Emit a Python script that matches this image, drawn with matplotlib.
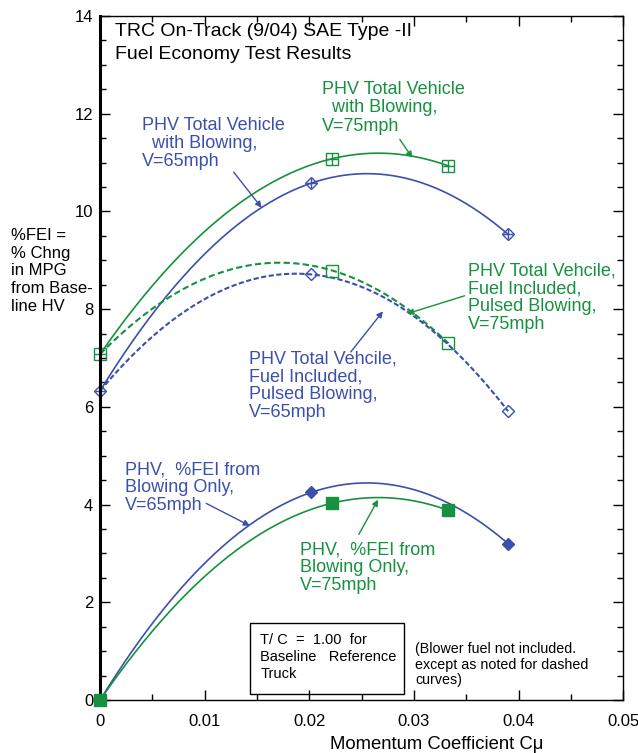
import matplotlib
matplotlib.use("Agg")
import matplotlib.pyplot as plt
import numpy as np
from matplotlib.ticker import MultipleLocator
from matplotlib.patches import Rectangle

plt.rcParams['font.family'] = ['Liberation Sans', 'DejaVu Sans']

BLUE = '#3b50ad'
GREEN = '#16913f'

# values (Momentum coefficient Cmu, %FEI)
cmu_65 = [0.0, 0.0202, 0.039]
cmu_75 = [0.0, 0.0222, 0.0333]
total_65 = [6.33, 10.58, 9.53]
total_75 = [7.08, 11.08, 10.93]
pulsed_65 = [6.33, 8.71, 5.91]
pulsed_75 = [7.08, 8.79, 7.30]
blowing_65 = [0.0, 4.25, 3.20]
blowing_75 = [0.0, 4.03, 3.88]

fig = plt.figure(figsize=(6.38, 7.53), dpi=100)
ax = fig.add_axes([0.157, 0.0704, 0.8197, 0.9084])


def fit_curve(xs, ys):
    # quadratic curve fit through the measured points, like the original plot
    coef = np.polyfit(xs, ys, 2)
    xx = np.linspace(min(xs), max(xs), 200)
    return xx, np.polyval(coef, xx)


lw = 1.2
# solid curves: total vehicle with blowing
x, y = fit_curve(cmu_65, total_65)
ax.plot(x, y, color=BLUE, lw=lw)
x, y = fit_curve(cmu_75, total_75)
ax.plot(x, y, color=GREEN, lw=lw)
# dashed curves: fuel included, pulsed blowing
x, y = fit_curve(cmu_75, pulsed_75)
ax.plot(x, y, color=GREEN, lw=1.5, ls=(0, (3, 1.6)))
x, y = fit_curve(cmu_65, pulsed_65)
ax.plot(x, y, color=BLUE, lw=1.5, ls=(0, (2.5, 1.2)))
# blowing only
x, y = fit_curve(cmu_65, blowing_65)
ax.plot(x, y, color=BLUE, lw=lw)
x, y = fit_curve(cmu_75, blowing_75)
ax.plot(x, y, color=GREEN, lw=lw)

# markers
ax.plot(cmu_65, total_65, 'D', ms=6, mfc='none', mec=BLUE, mew=1.0, clip_on=False)
ax.plot(cmu_65, total_65, '+', ms=7, mec=BLUE, mew=1.0, clip_on=False)
ax.plot(cmu_75, total_75, 's', ms=8, mfc='none', mec=GREEN, mew=1.0, clip_on=False)
ax.plot(cmu_75, total_75, '+', ms=8, mec=GREEN, mew=1.0, clip_on=False)
ax.plot(cmu_65[1:], pulsed_65[1:], 'D', ms=6, mfc='none', mec=BLUE, mew=1.0)
ax.plot(cmu_75[1:], pulsed_75[1:], 's', ms=8, mfc='none', mec=GREEN, mew=1.0)
ax.plot(cmu_65, blowing_65, 'D', ms=6, color=BLUE, clip_on=False, zorder=5)
ax.plot(cmu_75, blowing_75, 's', ms=8, color=GREEN, clip_on=False, zorder=5)

ax.set_xlim(0, 0.05)
ax.set_ylim(0, 14)
ax.xaxis.set_major_locator(MultipleLocator(0.01))
ax.xaxis.set_minor_locator(MultipleLocator(0.005))
ax.yaxis.set_major_locator(MultipleLocator(2))
ax.yaxis.set_minor_locator(MultipleLocator(0.5))
ax.set_xticks([0, 0.01, 0.02, 0.03, 0.04, 0.05])
ax.set_xticklabels(['0', '0.01', '0.02', '0.03', '0.04', '0.05'])
ax.tick_params(which='both', direction='in', top=True, right=True, labelsize=12)
ax.tick_params(which='major', length=7, width=1)
ax.tick_params(which='minor', length=4, width=1)
ax.tick_params(axis='x', pad=10)
ax.tick_params(axis='y', pad=5)
ax.spines['left'].set_linewidth(2.2)
for s in ['top', 'right', 'bottom']:
    ax.spines[s].set_linewidth(1.0)

ax.set_xlabel('Momentum Coefficient Cμ', fontsize=13.3)
ax.xaxis.set_label_coords(0.644, -0.052)
# y label written as horizontal text block at the left
fig.text(0.017, 0.697, '%FEI =\n% Chng\nin MPG\nfrom Base-', fontsize=12,
         va='top', ha='left', linespacing=1.22)
fig.text(0.017, 0.6035, 'line HV', fontsize=12, va='top', ha='left')

ax.text(0.0014, 13.86, 'TRC On-Track (9/04) SAE Type -II\nFuel Economy Test Results',
        fontsize=14, va='top', ha='left', linespacing=1.5)

ann = dict(fontsize=13, va='top', ha='left', linespacing=1.08)
arr_blue = dict(arrowstyle='-|>', color=BLUE, lw=1.0, mutation_scale=9)
arr_green = dict(arrowstyle='-|>', color=GREEN, lw=1.0, mutation_scale=9)

ax.text(0.0212, 12.66, 'PHV Total Vehicle\n  with Blowing,\nV=75mph', color=GREEN, **ann)
ax.annotate('', xy=(0.0300, 11.05), xytext=(0.0285, 11.52), arrowprops=arr_green)

ax.text(0.0040, 11.93, 'PHV Total Vehicle\n  with Blowing,\nV=65mph', color=BLUE, **ann)
ax.annotate('', xy=(0.0156, 10.03), xytext=(0.0126, 10.85), arrowprops=arr_blue)

ax.text(0.0352, 8.96, 'PHV Total Vehcile,\nFuel Included,\nPulsed Blowing,\nV=75mph',
        color=GREEN, **ann)
ax.annotate('', xy=(0.0291, 7.89), xytext=(0.0351, 8.29), arrowprops=arr_green)

ax.text(0.0142, 7.16, 'PHV Total Vehcile,\nFuel Included,\nPulsed Blowing,\nV=65mph',
        color=BLUE, **ann)
ax.annotate('', xy=(0.0272, 8.0), xytext=(0.0238, 7.08), arrowprops=arr_blue)

ax.text(0.0024, 4.89, 'PHV,  %FEI from\nBlowing Only,\nV=65mph', color=BLUE, **ann)
ax.annotate('', xy=(0.01455, 3.54), xytext=(0.0099, 4.05), arrowprops=arr_blue)

ax.text(0.0191, 3.25, 'PHV,  %FEI from\nBlowing Only,\nV=75mph', color=GREEN, **ann)
ax.annotate('', xy=(0.0267, 4.15), xytext=(0.0246, 3.34), arrowprops=arr_green)

# reference truck note box
ax.add_patch(Rectangle((0.01434, 0.123), 0.01472, 1.453, fill=False, ec='black', lw=1.0))
ax.text(0.0153, 1.38, 'T/ C  =  1.00  for\nBaseline   Reference\nTruck', fontsize=10.5,
        va='top', ha='left', linespacing=1.3)

ax.text(0.0301, 1.18, '(Blower fuel not included.\nexcept as noted for dashed\ncurves)',
        fontsize=10.3, va='top', ha='left', linespacing=1.12)

fig.savefig('out.png', dpi=100)
